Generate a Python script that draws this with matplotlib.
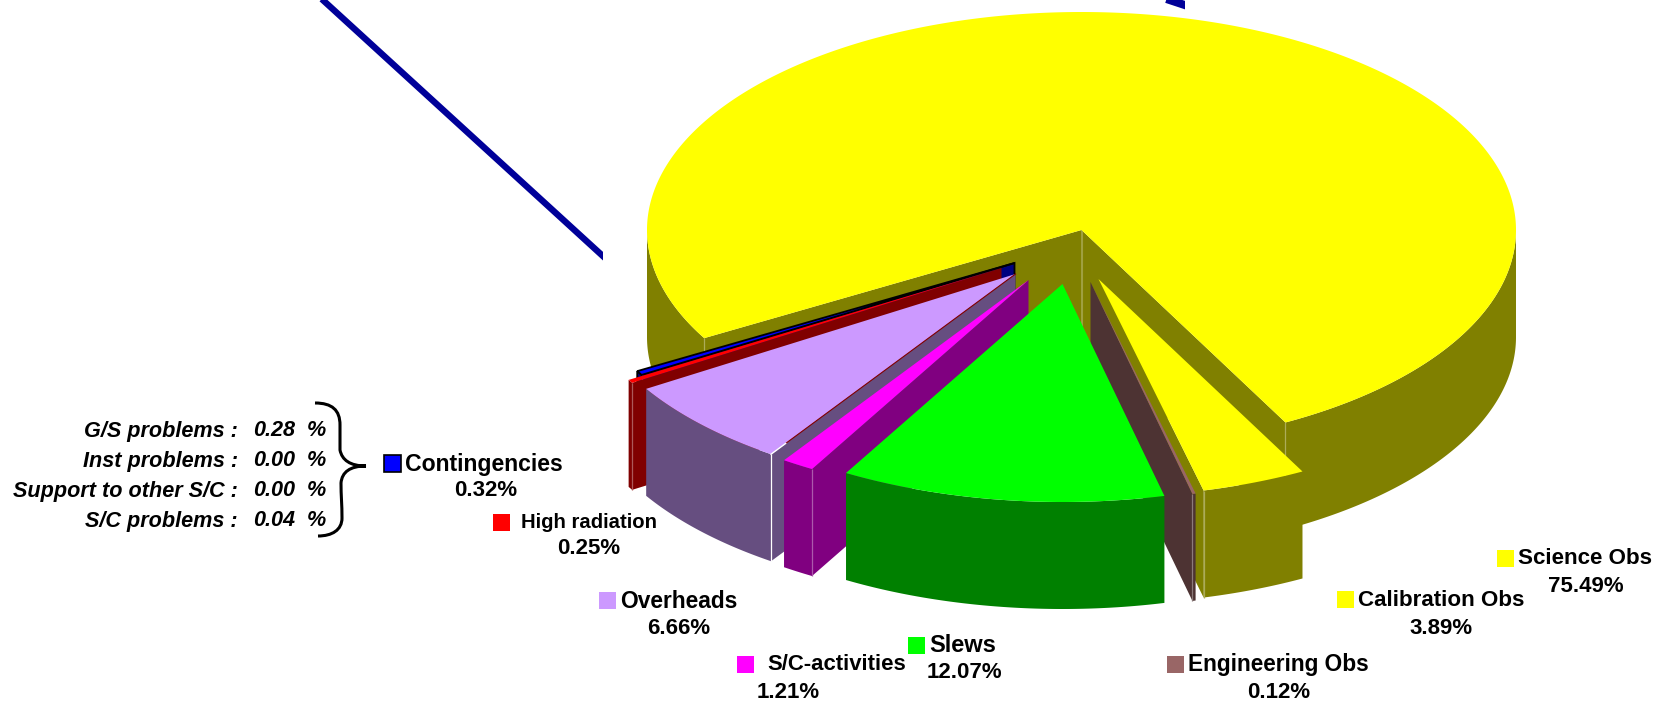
import numpy as np
import matplotlib
matplotlib.use("Agg")
import matplotlib.pyplot as plt
from matplotlib.patches import Polygon, PathPatch, Rectangle
from matplotlib.path import Path

plt.rcParams["font.family"] = ["Liberation Sans", "DejaVu Sans"]

# ---------- data (clockwise on screen, starting at Calibration Obs) ----------
LABELS = ["Calibration Obs", "Engineering Obs", "Slews", "S/C-activities",
          "Overheads", "High radiation", "Contingencies", "Science Obs"]
VALUES = [3.89, 0.12, 12.07, 1.21, 6.66, 0.25, 0.32, 75.49]
VALUE_TEXT = ["3.89%", "0.12%", "12.07%", "1.21%", "6.66%", "0.25%", "0.32%", "75.49%"]

SUB_LABELS = ["G/S problems :", "Inst problems :", "Support to other S/C :", "S/C problems :"]
SUB_VALUES = ["0.28", "0.00", "0.00", "0.04"]

# ---------- styles ----------
TOP_COLORS = ["#FFFF00", "#996666", "#00FF00", "#FF00FF",
              "#CC99FF", "#FF0000", "#0000FF", "#FFFF00"]
WALL_COLORS = ["#808000", "#4D3333", "#008000", "#800080",
               "#664E80", "#800000", "#000080", "#808000"]

# how far each slice is pulled out, in pixels
OFFSETS = [(17, 49), (9, 52), (-19, 54), (-53, 50),
           (-66, 44), (-80, 38), (-67, 33), (0, 0)]
DRAW_ORDER = [7, 6, 5, 4, 3, 0, 1, 2]

CX, CY = 1081.5, 230
RX, RY = 434.5, 218
DEPTH = 107
START_ANGLE = 62

# swatch left/top, label left/centre y, value centre x/centre y
LEGEND_POS = [(1337, 591, 1358, 600, 1441, 628),
              (1167, 656, 1188, 664, 1279, 692),
              (908, 637, 929, 645, 964, 672),
              (737, 656, 767, 664, 788, 692),
              (599, 592, 620, 601, 679, 628),
              (493, 514, 521, 523, 589, 549),
              (384, 455, 405, 464, 486, 491),
              (1497, 550, 1518, 558, 1586, 586)]
LABEL_SIZES = [16.1, 16.3, 17, 15.9, 16.4, 14.6, 16.6, 16.1]
SUB_Y = [431, 461, 491, 521]


def blend(color, amount):
    rgb = np.array(matplotlib.colors.to_rgb(color))
    return tuple(rgb + (1 - rgb) * amount)


def rim(cx, cy, a0, a1):
    t = np.radians(np.linspace(a0, a1, max(2, int(abs(a1 - a0) * 2))))
    return np.column_stack([cx + RX * np.cos(t), cy + RY * np.sin(t)])


def draw_slice(ax, a0, a1, off, top, wall, edge=None):
    cx, cy = CX + off[0], CY + off[1]
    down = np.array([0, DEPTH])
    apex = np.array([cx, cy])
    kw = dict(edgecolor=edge if edge else "none", linewidth=1.3 if edge else 0)

    # radial walls that face the viewer
    corners = []
    for a, visible in ((a0, np.cos(np.radians(a0)) < 0), (a1, np.cos(np.radians(a1)) > 0)):
        if not visible:
            continue
        p = rim(cx, cy, a, a)[0]
        ax.add_patch(Polygon([apex, p, p + down, apex + down], facecolor=wall, **kw))
        corners.append(p)

    # outer wall: only the part in the front half of the ellipse
    for k in range(0, 2):
        lo, hi = max(a0, 360 * k), min(a1, 360 * k + 180)
        if hi > lo:
            pts = rim(cx, cy, lo, hi)
            ax.add_patch(Polygon(np.vstack([pts, pts[::-1] + down]), facecolor=wall, **kw))

    # light seams down the corners (zorder 1 keeps them in paint order with the patches)
    seam = "white" if top == "#CC99FF" else blend(wall, 0.35)
    for p in corners:
        ax.plot([p[0], p[0]], [p[1], p[1] + DEPTH], color=seam, lw=0.9,
                solid_capstyle="butt", zorder=1)
    if a1 > 400:
        ax.plot([cx, cx], [cy, cy + DEPTH], color=blend(wall, 0.25), lw=0.8,
                solid_capstyle="butt", zorder=1)

    ax.add_patch(Polygon(np.vstack([apex, rim(cx, cy, a0, a1)]), facecolor=top, **kw))


fig = plt.figure(figsize=(16.63, 7.07), dpi=100)
ax = fig.add_axes([0, 0, 1, 1])
ax.set_xlim(0, 1663)
ax.set_ylim(707, 0)
ax.axis("off")

# stray leader lines, cut off by the picture frame
for xs, ys, right, width in (([290, 640], [-30, 290], 603, 4.6),
                             ([1100, 1230], [-23, 20], 1185, 5.8)):
    line, = ax.plot(xs, ys, color="#000099", lw=width, solid_capstyle="butt")
    line.set_clip_path(Rectangle((0, 0), right, 707, transform=ax.transData))

angles = START_ANGLE + np.concatenate([[0], np.cumsum(VALUES)]) / np.sum(VALUES) * 360

for i in DRAW_ORDER:
    edge = "black" if LABELS[i] == "Contingencies" else None
    draw_slice(ax, angles[i], angles[i + 1], OFFSETS[i], TOP_COLORS[i], WALL_COLORS[i], edge)

# thin edge along the Overheads slice, dark red with a white stub at the rim
i = LABELS.index("Overheads")
start = np.array([CX + OFFSETS[i][0], CY + OFFSETS[i][1]])
end = rim(*start, angles[i], angles[i])[0]
stub = end + (start - end) * 0.06
ax.plot(*zip(start, stub), color="#800000", lw=0.8, zorder=1.5)
ax.plot(*zip(stub, end), color="white", lw=1.0, zorder=1.5)

# legend entries next to the slices
for i, (sx, sy, tx, ty, vx, vy) in enumerate(LEGEND_POS):
    boxed = LABELS[i] == "Contingencies"
    ax.add_patch(Rectangle((sx, sy), 17, 17, facecolor=TOP_COLORS[i],
                           edgecolor="black" if boxed else "none", linewidth=1.2))
    ax.text(tx, ty, LABELS[i], fontsize=LABEL_SIZES[i], fontweight="bold", va="center", ha="left")
    ax.text(vx, vy, VALUE_TEXT[i], fontsize=16, fontweight="bold", va="center", ha="center")

# breakdown of contingencies
for name, val, y in zip(SUB_LABELS, SUB_VALUES, SUB_Y):
    ax.text(238, y, name, fontsize=15.6, fontweight="bold", style="italic", va="center", ha="right")
    ax.text(253, y, val, fontsize=15.6, fontweight="bold", style="italic", va="center", ha="left")
    ax.text(307, y, "%", fontsize=15.6, fontweight="bold", style="italic", va="center", ha="left")

brace = Path([(315, 403), (332, 403), (340, 410), (340, 425),
              (340, 435), (340, 442), (340, 450),
              (342, 460), (350, 466), (366, 466),
              (350, 466), (342, 472), (341, 483),
              (341, 495), (342, 505), (342, 518),
              (342, 530), (332, 536), (318, 536)],
             [Path.MOVETO] + [Path.CURVE4] * 18)
ax.add_patch(PathPatch(brace, facecolor="none", edgecolor="black", lw=2.2))

fig.savefig("out.png", dpi=100)
